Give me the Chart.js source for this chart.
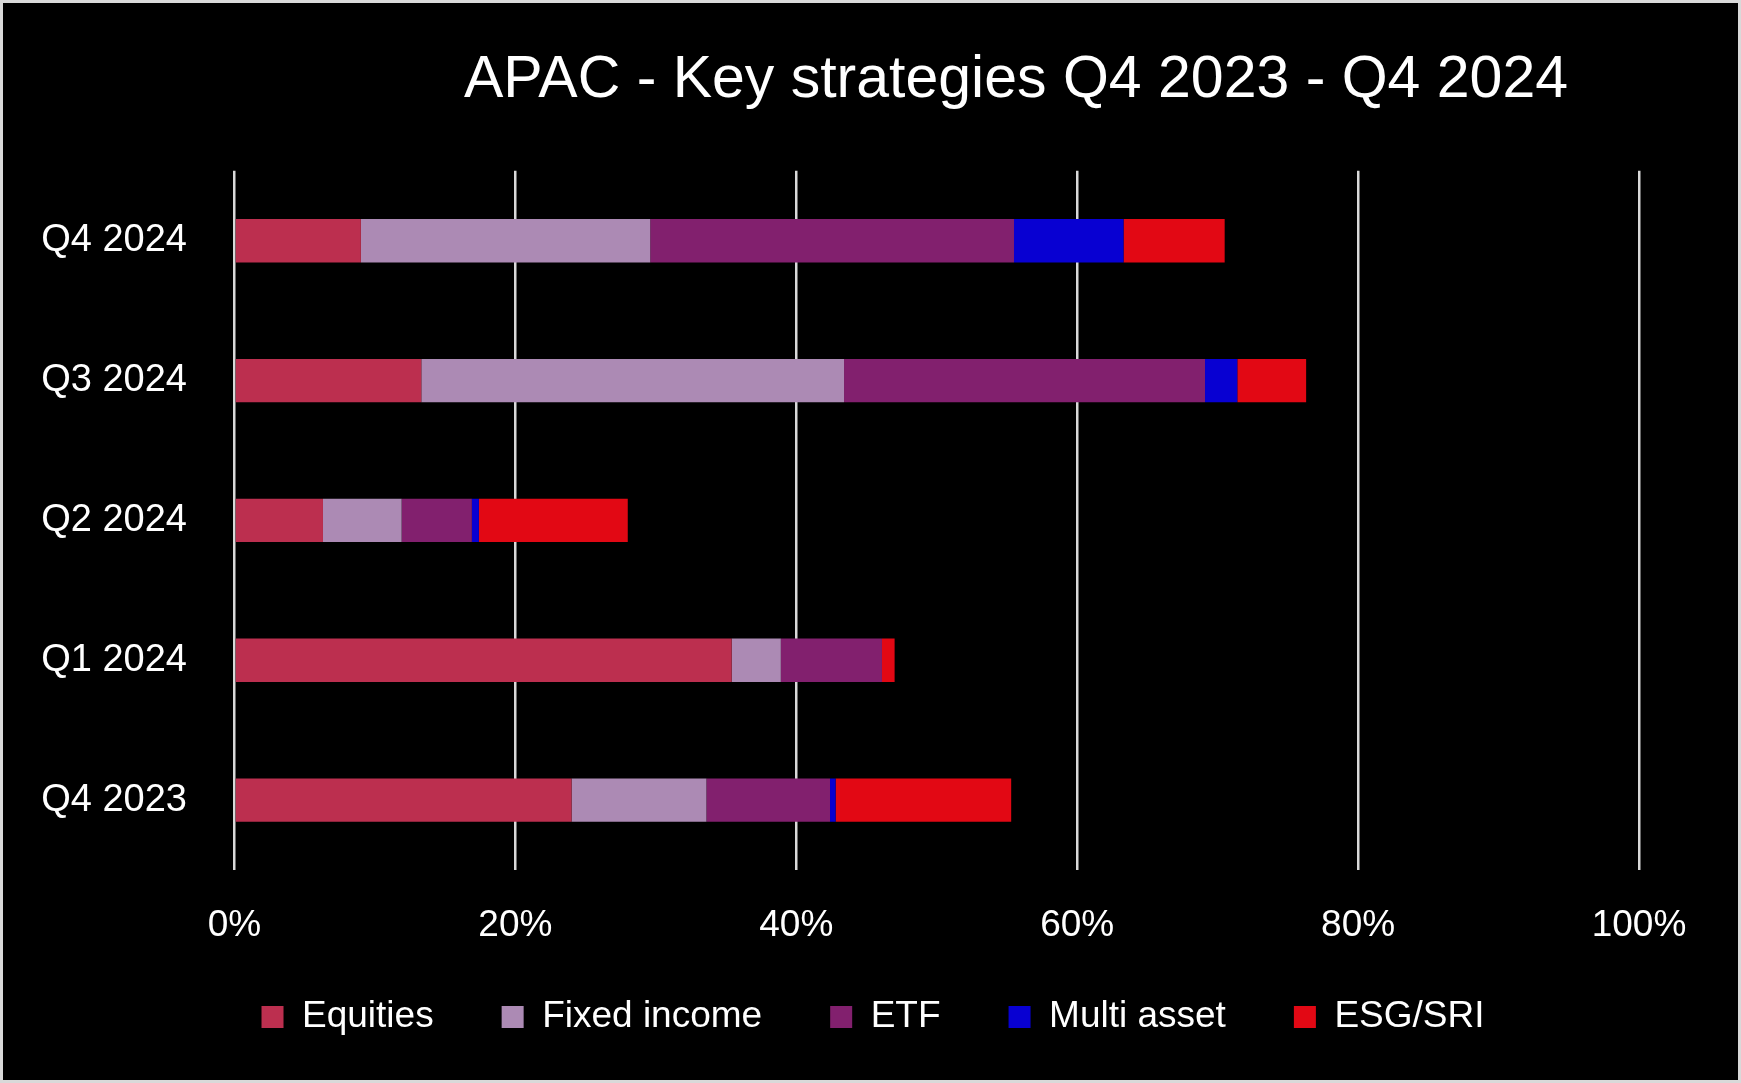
<!DOCTYPE html>
<html>
<head>
<meta charset="UTF-8">
<title>APAC - Key strategies</title>
<script src="https://cdn.jsdelivr.net/npm/chart.js"></script>
<style>
body{
  margin:0;
  background:#000;
}
.wrap{
  position:relative;
  width:1741px;
  height:1083px;
  background:#000;
}
.frame{
  position:absolute;
  left:0;top:0;right:0;bottom:0;
  border:3px solid #d9d9d9;
  pointer-events:none;
}
canvas{display:block;}
</style>
</head>
<body>

<div class="wrap">
<canvas id="chart" width="1741" height="1083"></canvas>
<div class="frame"></div>
</div>

<script>
// data, top row first
const quarters = ["Q4 2024","Q3 2024","Q2 2024","Q1 2024","Q4 2023"];
const equities    = [9.0, 13.3, 6.3, 35.4, 24.0];
const fixedIncome = [20.6, 30.1, 5.6, 3.5, 9.6];
const etf         = [25.9, 25.7, 5.0, 7.2, 8.8];
const multiAsset  = [7.8, 2.3, 0.5, 0, 0.4];
const esgSri      = [7.2, 4.9, 10.6, 0.9, 12.5];
const xTicks = [0, 20, 40, 60, 80, 100];

const FONT = "'Liberation Sans', Arial, sans-serif";

// move title / legend to where the original puts them
const shiftBoxes = {
  id: "shiftBoxes",
  afterLayout(chart){
    const move = (box, cx, dy) => {
      if(!box) return;
      const d = cx - (box.left + box.right) / 2;
      box.left += d;
      box.right += d;
      box.top += dy;
      box.bottom += dy;
    };
    move(chart.titleBlock, 1016, 0);
    move(chart.legend, 873, -19.5);
  }
};

new Chart(document.getElementById("chart"), {
  type: "bar",
  data: {
    labels: quarters,
    datasets: [
      {label:"Equities",     data:equities,    backgroundColor:"#BC2F4F"},
      {label:"Fixed income", data:fixedIncome, backgroundColor:"#AC8AB4"},
      {label:"ETF",          data:etf,         backgroundColor:"#82206E"},
      {label:"Multi asset",  data:multiAsset,  backgroundColor:"#0800D2"},
      {label:"ESG/SRI",      data:esgSri,      backgroundColor:"#E20814"}
    ]
  },
  options: {
    indexAxis: "y",
    responsive: false,
    devicePixelRatio: 1,
    animation: false,
    layout: {padding: {top: 0, right: 102, bottom: 18, left: 0}},
    datasets: {bar: {categoryPercentage: 1, barPercentage: 0.31, borderWidth: 0}},
    scales: {
      x: {
        stacked: true,
        min: 0,
        max: 100,
        afterBuildTicks(scale){ scale.ticks = xTicks.map(v => ({value: v})); },
        afterFit(scale){ scale.height = 80; },
        ticks: {
          color: "#fff",
          padding: 34,
          font: {family: FONT, size: 37},
          callback: v => v + "%"
        },
        grid: {color: "#d9d9d9", lineWidth: 2.5, drawTicks: false},
        border: {display: false}
      },
      y: {
        stacked: true,
        afterFit(scale){ scale.width = 234.5; },
        ticks: {
          color: "#fff",
          padding: 47.5,
          font: {family: FONT, size: 38}
        },
        grid: {display: false, drawTicks: false},
        border: {display: false}
      }
    },
    plugins: {
      title: {
        display: true,
        text: "APAC - Key strategies Q4 2023 - Q4 2024",
        color: "#fff",
        font: {family: FONT, size: 59, weight: "normal"},
        padding: {top: 45, bottom: 55}
      },
      legend: {
        position: "bottom",
        labels: {
          color: "#fff",
          font: {family: FONT, size: 37},
          boxWidth: 22,
          boxHeight: 22,
          padding: 68
        }
      },
      tooltip: {enabled: false}
    }
  },
  plugins: [shiftBoxes]
});
</script>
</body>
</html>
